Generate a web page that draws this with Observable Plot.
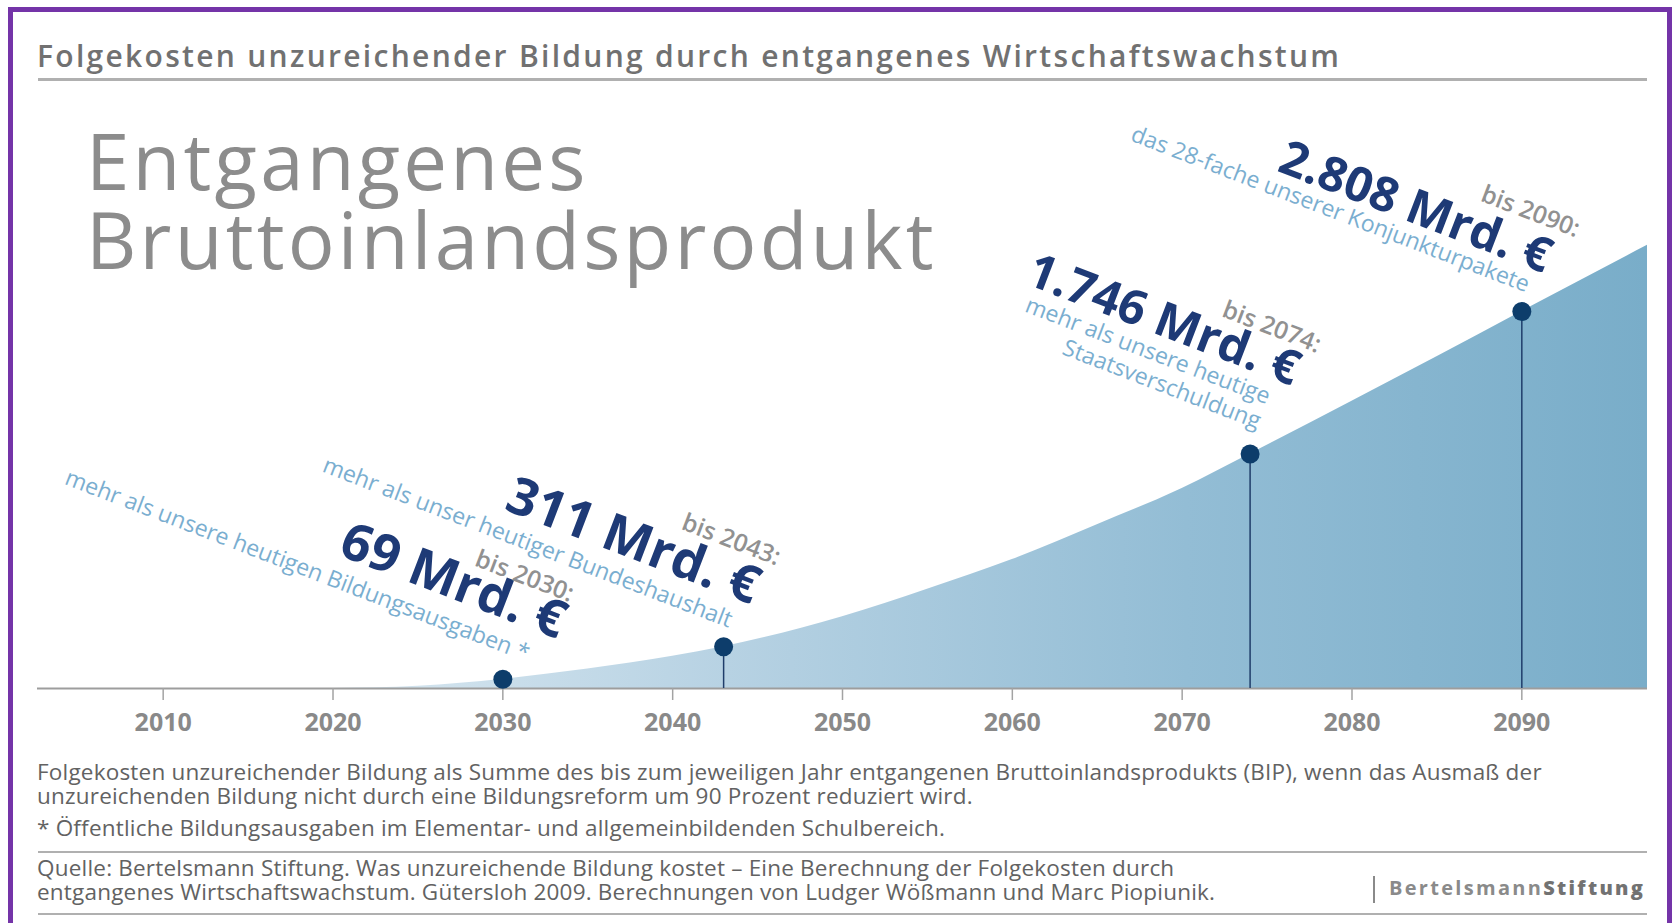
<!DOCTYPE html>
<html>
<head>
<meta charset="utf-8">
<script src="https://cdn.jsdelivr.net/npm/d3@7"></script>
<script src="https://cdn.jsdelivr.net/npm/@observablehq/plot@0.6"></script>
<style>
  html, body { margin: 0; padding: 0; background: #fff; }
  body { width: 1675px; height: 923px; overflow: hidden; position: relative; font-family: "Open Sans", sans-serif; }
  .frame { position: absolute; left: 8px; top: 7px; width: 1654px; height: 960px; border: 5px solid #7434a8; border-bottom: none; }
  .abs { position: absolute; white-space: nowrap; }
  #title { left: 37px; top: 41px; font-size: 30px; line-height: 30px; font-weight: 600; color: #717171; letter-spacing: 2.3px; }
  .hr { position: absolute; left: 38px; width: 1609px; background: #b0b0b0; }
  .heading { left: 86px; font-size: 78px; line-height: 76px; color: #8c8c8c; font-weight: 400; letter-spacing: 3.2px; }
  #chart { position: absolute; left: 0; top: 88px; }
  .cap { left: 37px; font-size: 22.5px; line-height: 24px; color: #626262; letter-spacing: 0.2px; }
  #logo { left: 1389px; top: 874px; font-size: 20px; line-height: 28px; font-weight: 700; letter-spacing: 2.3px; color: #8a8a8a; }
  #logo b { color: #727272; }
  #logobar { position: absolute; left: 1373px; top: 876px; width: 2px; height: 27px; background: #8a8a8a; }
  svg [aria-label="x-axis tick label"] text { font-weight: 700; }
</style>
</head>
<body>
<div class="frame"></div>
<div id="title" class="abs">Folgekosten unzureichender Bildung durch entgangenes Wirtschaftswachstum</div>
<div class="hr" style="top:78px;height:3px;"></div>
<div id="chart"></div>
<div class="abs heading" style="top:122px;">Entgangenes</div>
<div class="abs heading" style="top:201px;">Bruttoinlandsprodukt</div>
<div class="abs cap" style="top:760px;">Folgekosten unzureichender Bildung als Summe des bis zum jeweiligen Jahr entgangenen Bruttoinlandsprodukts (BIP), wenn das Ausmaß der</div>
<div class="abs cap" style="top:784px;">unzureichenden Bildung nicht durch eine Bildungsreform um 90 Prozent reduziert wird.</div>
<div class="abs cap" style="top:816px;">* Öffentliche Bildungsausgaben im Elementar- und allgemeinbildenden Schulbereich.</div>
<div class="hr" style="top:851px;height:2px;"></div>
<div class="abs cap" style="top:856px;">Quelle: Bertelsmann Stiftung. Was unzureichende Bildung kostet – Eine Berechnung der Folgekosten durch</div>
<div class="abs cap" style="top:880px;">entgangenes Wirtschaftswachstum. Gütersloh 2009. Berechnungen von Ludger Wößmann und Marc Piopiunik.</div>
<div id="logobar"></div>
<div id="logo" class="abs">Bertelsmann<b>Stiftung</b></div>
<div class="hr" style="top:913px;height:2px;"></div>

<script>
// ---- data ----
const curveYears  = [2020, 2025, 2030, 2035, 2040, 2043, 2050, 2055, 2060, 2065, 2070, 2074, 2080, 2085, 2090, 2097.4];
const curveValues = [0,    16,   69,   145,  240,  311,  535,  740,  960,  1220, 1490, 1746, 2140, 2470, 2808, 3300];

const markYears  = [2030, 2043, 2074, 2090];
const markValues = [69, 311, 1746, 2808];
const valueLabels = ["69 Mrd. €", "311 Mrd. €", "1.746 Mrd. €", "2.808 Mrd. €"];
const untilLabels = ["bis 2030:", "bis 2043:", "bis 2074:", "bis 2090:"];
const comparisonLabels = [
  "mehr als unsere heutigen Bildungsausgaben *",
  "mehr als unser heutiger Bundeshaushalt",
  "mehr als unsere heutige\nStaatsverschuldung",
  "das 28-fache unserer Konjunkturpakete"
];
const tickYears = [2010, 2020, 2030, 2040, 2050, 2060, 2070, 2080, 2090];

// ---- layout (screen offsets of the rotated labels from each point) ----
const numberOffsets = [[55, -40], [28, -42], [42, -68], [22, -38]];
const numberSizes   = [52, 52, 48, 48];
const untilOffsets  = [[67, -77], [53, -81], [67, -101], [54, -74]];
const compOffsets   = [[23, -18], [5, -19], [7, -25], [4, -19]];
const ANGLE = 21;

const curve = curveYears.map((year, i) => ({year, value: curveValues[i]}));
const points = markYears.map((year, i) => ({
  year, value: markValues[i], label: valueLabels[i], until: untilLabels[i], comp: comparisonLabels[i]
}));

const labelMarks = [];
points.forEach((p, i) => {
  labelMarks.push(Plot.text([p], {
    x: "year", y: "value", text: "comp", rotate: ANGLE, textAnchor: "end", lineAnchor: "bottom",
    dx: compOffsets[i][0], dy: compOffsets[i][1], fontSize: 23, lineHeight: 1.15, fill: "#7aaed0"
  }));
  labelMarks.push(Plot.text([p], {
    x: "year", y: "value", text: "label", rotate: ANGLE, textAnchor: "end", lineAnchor: "bottom",
    dx: numberOffsets[i][0], dy: numberOffsets[i][1], fontSize: numberSizes[i], fontWeight: 700, fill: "#1e3a76"
  }));
  labelMarks.push(Plot.text([p], {
    x: "year", y: "value", text: "until", rotate: ANGLE, textAnchor: "end", lineAnchor: "bottom",
    dx: untilOffsets[i][0], dy: untilOffsets[i][1], fontSize: 24.5, fontWeight: 600, fill: "#919191"
  }));
});

const chart = Plot.plot({
  width: 1675,
  height: 660,
  marginLeft: 37,
  marginRight: 28,
  marginTop: 130,
  marginBottom: 60,
  style: { fontFamily: "Open Sans, sans-serif", background: "transparent", overflow: "visible" },
  x: { domain: [2002.6, 2097.4], label: null },
  y: { domain: [0, 3500], axis: null },
  marks: [
    Plot.areaY(curve, { x: "year", y: "value", fill: "url(#bipGrad)", curve: "monotone-x" }),
    Plot.ruleY([0], { stroke: "#9d9d9d", strokeWidth: 2 }),
    Plot.axisX({
      ticks: tickYears, tickFormat: d => String(d), tickSize: 12, tickPadding: 13, label: null,
      fontSize: 25, fontWeight: 700, stroke: "#a3a3a3", fill: "#898989", strokeWidth: 1.5
    }),
    Plot.ruleX(points, { x: "year", y1: 0, y2: "value", stroke: "#1f3d6a", strokeWidth: 1.5 }),
    Plot.dot(points, { x: "year", y: "value", r: 9.5, fill: "#0d3d6b" }),
    ...labelMarks
  ]
});

const defs = d3.select(chart).insert("defs", ":first-child");
const grad = defs.append("linearGradient").attr("id", "bipGrad")
  .attr("x1", "0").attr("x2", "1").attr("y1", "0").attr("y2", "0");
[["0%", "#d8e7f0"], ["30%", "#b7d2e3"], ["65%", "#93bdd5"], ["100%", "#79adc9"]]
  .forEach(([o, c]) => grad.append("stop").attr("offset", o).attr("stop-color", c));

document.getElementById("chart").appendChild(chart);
</script>
</body>
</html>
